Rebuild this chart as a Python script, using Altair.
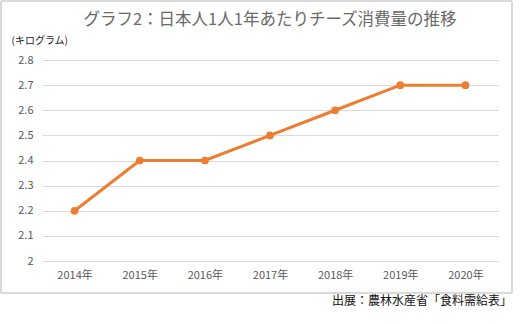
import altair as alt
import pandas as pd

years = ["2014年", "2015年", "2016年", "2017年", "2018年", "2019年", "2020年"]
values = [2.2, 2.4, 2.4, 2.5, 2.6, 2.7, 2.7]
y_ticks = [2.0, 2.1, 2.2, 2.3, 2.4, 2.5, 2.6, 2.7, 2.8]

title_text = "グラフ2：日本人1人1年あたりチーズ消費量の推移"
unit_text = "(キログラム)"
source_text = "出展：農林水産省「食料需給表」"

df = pd.DataFrame({"year": years, "value": values})
FONT = "Noto Sans CJK JP"
ORANGE = "#ED7D31"
GRID = "#D9D9D9"

base = alt.Chart(df)

xenc = alt.X("year:N", sort=years,
             scale=alt.Scale(type="point", padding=0.5),
             axis=alt.Axis(title=None, domain=False, ticks=False, labelAngle=0,
                           labelPadding=8, labelFontSize=11, labelColor="#595959",
                           labelFont=FONT))
yenc = alt.Y("value:Q", scale=alt.Scale(domain=[2.0, 2.8]),
             axis=alt.Axis(values=y_ticks, domain=False, ticks=False,
                           labelPadding=9, labelFontSize=11, labelColor="#595959",
                           labelFont=FONT, gridColor=GRID, gridWidth=1.2,
                           labelOverlap=False,
                           labelExpr="datum.value == 2 ? '2' : format(datum.value, '.1f')",
                           title=unit_text, titleAngle=0, titleX=-31, titleY=-20,
                           titleAlign="left", titleBaseline="middle",
                           titleFontSize=10, titleFontWeight="normal",
                           titleColor="#222222", titleFont=FONT))

frame = base.mark_rect(fill=None, stroke=GRID, strokeWidth=1).encode(
    x=alt.value(-41), x2=alt.value(470), y=alt.value(-59), y2=alt.value(233)
)

line = base.mark_line(color=ORANGE, strokeWidth=3).encode(x=xenc, y=yenc)

points = base.mark_circle(color=ORANGE, size=60, opacity=1).encode(x=xenc, y=yenc)

title = alt.Chart(pd.DataFrame({"t": [title_text]})).mark_text(
    align="center", baseline="middle", fontSize=16.5, font=FONT, color="#6A6A6A"
).encode(text="t:N", x=alt.value(228), y=alt.value(-40))

src = alt.Chart(pd.DataFrame({"t": [source_text]})).mark_text(
    align="right", baseline="middle", fontSize=12, font=FONT, color="#111111"
).encode(text="t:N", x=alt.value(470), y=alt.value(241))

chart = alt.layer(line, points, frame, title, src).properties(
    width=456, height=201,
    autosize=alt.AutoSizeParams(type="none"),
    padding={"left": 42, "top": 60, "right": 28, "bottom": 63},
).configure_view(stroke=None)

chart.save("out.html", embed_options={"renderer": "svg", "actions": False})
